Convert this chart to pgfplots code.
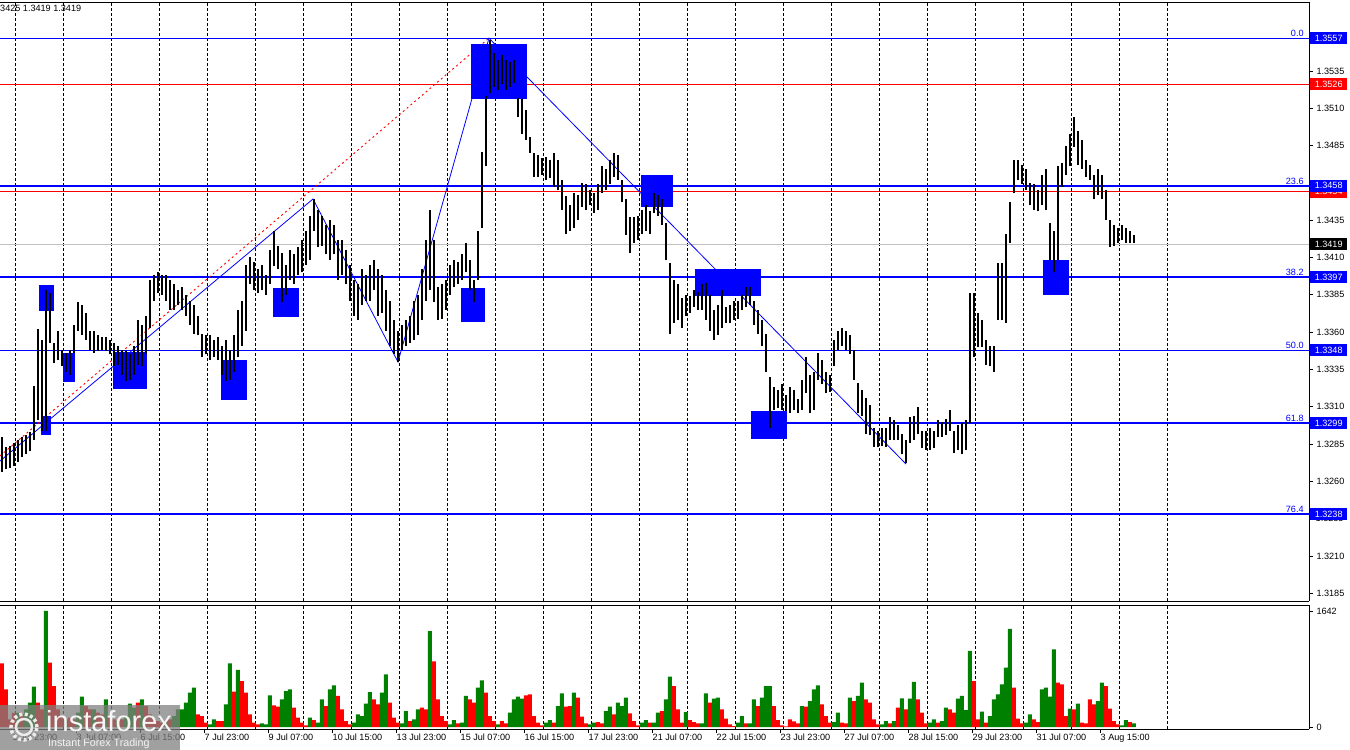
\documentclass[border=0pt]{standalone}
\usepackage{fontspec}
\setmainfont{Liberation Sans}
\usepackage{pgfplots}
\pgfplotsset{compat=1.18}
\usepackage{pgfplotstable}
\definecolor{vgreen}{RGB}{0,128,0}
\definecolor{lgray}{RGB}{192,192,192}
\newcommand\lab{\fontsize{9.1}{10}\selectfont}

\pgfplotstableread{
h lo hi
1 1.3266 1.3290
3 1.3268 1.3283
5 1.3269 1.3284
7 1.3270 1.3286
9 1.3273 1.3288
11 1.3276 1.3290
13 1.3278 1.3291
15 1.3280 1.3293
17 1.3288 1.3324
19 1.3301 1.3362
21 1.3294 1.3355
23 1.3294 1.3388
25 1.3353 1.3386
27 1.3339 1.3353
29 1.3341 1.3361
31 1.3337 1.3348
33 1.3333 1.3346
35 1.3331 1.3348
37 1.3346 1.3365
39 1.3361 1.3380
41 1.3358 1.3378
43 1.3355 1.3373
45 1.3348 1.3361
47 1.3346 1.3361
49 1.3347 1.3358
51 1.3348 1.3357
53 1.3347 1.3357
55 1.3345 1.3355
57 1.3337 1.3353
59 1.3338 1.3351
61 1.3331 1.3348
63 1.3327 1.3347
65 1.3328 1.3345
67 1.3331 1.3351
69 1.3338 1.3368
71 1.3337 1.3365
73 1.3345 1.3371
75 1.3363 1.3395
77 1.3381 1.3398
79 1.3386 1.3400
81 1.3385 1.3398
83 1.3381 1.3398
85 1.3375 1.3395
87 1.3375 1.3392
89 1.3378 1.3388
91 1.3375 1.3390
93 1.3371 1.3385
95 1.3365 1.3381
97 1.3359 1.3378
99 1.3358 1.3371
101 1.3343 1.3359
103 1.3345 1.3358
105 1.3341 1.3358
107 1.3343 1.3355
109 1.3341 1.3357
111 1.3331 1.3351
113 1.3327 1.3355
115 1.3328 1.3348
117 1.3333 1.3358
119 1.3343 1.3375
121 1.3351 1.3381
123 1.3361 1.3405
125 1.3392 1.3410
127 1.3388 1.3407
129 1.3386 1.3402
131 1.3388 1.3405
133 1.3385 1.3398
135 1.3392 1.3415
137 1.3404 1.3428
139 1.3402 1.3418
141 1.3380 1.3413
143 1.3385 1.3405
145 1.3395 1.3415
147 1.3392 1.3412
149 1.3398 1.3417
151 1.3400 1.3422
153 1.3405 1.3428
155 1.3408 1.3438
157 1.3428 1.3449
159 1.3417 1.3442
161 1.3418 1.3438
163 1.3412 1.3432
165 1.3408 1.3435
167 1.3412 1.3432
169 1.3395 1.3422
171 1.3398 1.3422
173 1.3392 1.3415
175 1.3381 1.3405
177 1.3371 1.3395
179 1.3368 1.3392
181 1.3378 1.3402
183 1.3381 1.3398
185 1.3381 1.3405
187 1.3388 1.3408
189 1.3371 1.3402
191 1.3373 1.3398
193 1.3361 1.3388
195 1.3351 1.3381
197 1.3345 1.3368
199 1.3340 1.3361
201 1.3348 1.3365
203 1.3351 1.3368
205 1.3353 1.3371
207 1.3355 1.3381
209 1.3358 1.3385
211 1.3368 1.3402
213 1.3381 1.3422
215 1.3388 1.3442
217 1.3380 1.3422
219 1.3368 1.3390
221 1.3369 1.3392
223 1.3375 1.3395
225 1.3385 1.3405
227 1.3390 1.3408
229 1.3392 1.3407
231 1.3395 1.3412
233 1.3400 1.3420
235 1.3388 1.3408
237 1.3380 1.3395
239 1.3395 1.3428
241 1.3430 1.3481
243 1.3471 1.3518
245 1.3520 1.3556
247 1.3524 1.3547
249 1.3522 1.3542
251 1.3526 1.3546
253 1.3522 1.3542
255 1.3524 1.3541
257 1.3527 1.3542
259 1.3504 1.3517
261 1.3493 1.3516
263 1.3489 1.3509
265 1.3480 1.3491
267 1.3464 1.3480
269 1.3464 1.3479
271 1.3465 1.3477
273 1.3462 1.3477
275 1.3463 1.3475
277 1.3457 1.3480
279 1.3455 1.3475
281 1.3442 1.3462
283 1.3426 1.3451
285 1.3428 1.3445
287 1.3430 1.3453
289 1.3435 1.3452
291 1.3444 1.3460
293 1.3442 1.3459
295 1.3445 1.3455
297 1.3440 1.3453
299 1.3442 1.3459
301 1.3453 1.3471
303 1.3455 1.3469
305 1.3459 1.3475
307 1.3464 1.3480
309 1.3462 1.3479
311 1.3447 1.3462
313 1.3425 1.3449
315 1.3413 1.3437
317 1.3420 1.3437
319 1.3422 1.3438
321 1.3426 1.3442
323 1.3428 1.3445
325 1.3426 1.3441
327 1.3440 1.3453
329 1.3438 1.3452
331 1.3432 1.3449
333 1.3408 1.3433
335 1.3359 1.3406
337 1.3366 1.3395
339 1.3368 1.3392
341 1.3363 1.3383
343 1.3371 1.3385
345 1.3373 1.3384
347 1.3377 1.3388
349 1.3375 1.3387
351 1.3375 1.3392
353 1.3368 1.3393
355 1.3361 1.3385
357 1.3355 1.3375
359 1.3358 1.3378
361 1.3363 1.3388
363 1.3366 1.3377
365 1.3366 1.3378
367 1.3368 1.3381
369 1.3369 1.3381
371 1.3375 1.3385
373 1.3377 1.3390
375 1.3378 1.3390
377 1.3365 1.3381
379 1.3359 1.3375
381 1.3351 1.3368
383 1.3333 1.3359
385 1.3296 1.3330
387 1.3308 1.3323
389 1.3309 1.3321
391 1.3308 1.3325
393 1.3307 1.3318
395 1.3306 1.3323
397 1.3308 1.3321
399 1.3306 1.3315
401 1.3308 1.3328
403 1.3319 1.3343
405 1.3306 1.3331
407 1.3308 1.3333
409 1.3328 1.3346
411 1.3325 1.3341
413 1.3319 1.3333
415 1.3320 1.3331
417 1.3337 1.3355
419 1.3348 1.3361
421 1.3351 1.3363
423 1.3348 1.3361
425 1.3345 1.3358
427 1.3328 1.3348
429 1.3306 1.3326
431 1.3304 1.3321
433 1.3292 1.3316
435 1.3291 1.3311
437 1.3283 1.3296
439 1.3283 1.3294
441 1.3284 1.3296
443 1.3283 1.3296
445 1.3288 1.3303
447 1.3288 1.3301
449 1.3288 1.3298
451 1.3278 1.3292
453 1.3272 1.3288
455 1.3286 1.3303
457 1.3288 1.3304
459 1.3292 1.3310
461 1.3282 1.3294
463 1.3281 1.3294
465 1.3281 1.3296
467 1.3282 1.3294
469 1.3290 1.3301
471 1.3290 1.3300
473 1.3291 1.3302
475 1.3294 1.3308
477 1.3279 1.3294
479 1.3281 1.3298
481 1.3278 1.3299
483 1.3281 1.3301
485 1.3299 1.3386
487 1.3343 1.3386
489 1.3350 1.3373
491 1.3350 1.3368
493 1.3338 1.3355
495 1.3337 1.3351
497 1.3333 1.3351
499 1.3368 1.3406
501 1.3368 1.3406
503 1.3366 1.3426
505 1.3420 1.3447
507 1.3453 1.3475
509 1.3462 1.3475
511 1.3459 1.3472
513 1.3455 1.3469
515 1.3445 1.3460
517 1.3442 1.3459
519 1.3441 1.3455
521 1.3445 1.3465
523 1.3442 1.3469
525 1.3408 1.3433
527 1.3400 1.3428
529 1.3408 1.3471
531 1.3457 1.3473
533 1.3465 1.3485
535 1.3471 1.3493
537 1.3484 1.3504
539 1.3472 1.3495
541 1.3469 1.3489
543 1.3464 1.3475
545 1.3462 1.3472
547 1.3449 1.3465
549 1.3452 1.3469
551 1.3449 1.3465
553 1.3435 1.3455
555 1.3417 1.3435
557 1.3418 1.3432
559 1.3420 1.3430
561 1.3422 1.3432
563 1.3420 1.3430
565 1.3420 1.3428
567 1.3420 1.3425
}\price

\pgfplotstableread{
h r g
1 900 nan
3 533 nan
5 108 nan
7 200 nan
9 nan 200
11 180 nan
13 nan 250
15 nan 344
17 nan 570
19 344 nan
21 250 nan
23 nan 1642
25 910 nan
27 580 nan
29 250 nan
31 156 nan
33 nan 108
35 132 nan
37 108 nan
39 nan 203
41 nan 429
43 297 nan
45 250 nan
47 nan 250
49 203 nan
51 180 nan
53 nan 392
55 156 nan
57 108 nan
59 nan 85
61 108 nan
63 nan 156
65 nan 330
67 nan 274
69 344 nan
71 nan 392
73 297 nan
75 180 nan
77 108 nan
79 85 nan
81 61 nan
83 nan 85
85 108 nan
87 nan 156
89 nan 250
91 nan 250
93 nan 344
95 nan 486
97 nan 557
99 180 nan
101 156 nan
103 61 nan
105 nan 38
107 nan 108
109 85 nan
111 85 nan
113 nan 321
115 nan 900
117 500 nan
119 nan 807
121 651 nan
123 486 nan
125 180 nan
127 61 nan
129 38 nan
131 nan 52
133 nan 38
135 nan 448
137 307 nan
139 288 nan
141 nan 392
143 nan 509
145 nan 533
147 274 nan
149 132 nan
151 61 nan
153 24 nan
155 nan 132
157 99 nan
159 nan 61
161 nan 392
163 297 nan
165 nan 533
167 nan 590
169 439 nan
171 250 nan
173 85 nan
175 38 nan
177 nan 61
179 nan 180
181 nan 156
183 nan 330
185 nan 495
187 392 nan
189 321 nan
191 nan 486
193 nan 745
195 344 nan
197 132 nan
199 61 nan
201 nan 52
203 nan 226
205 85 nan
207 nan 108
209 nan 250
211 274 nan
213 250 nan
215 nan 1358
217 930 nan
219 392 nan
221 156 nan
223 85 nan
225 nan 38
227 nan 99
229 52 nan
231 nan 61
233 nan 439
235 392 nan
237 344 nan
239 nan 557
241 nan 660
243 486 nan
245 156 nan
247 85 nan
249 nan 38
251 85 nan
253 52 nan
255 nan 203
257 nan 392
259 nan 429
261 nan 401
263 448 nan
265 462 nan
267 156 nan
269 61 nan
271 24 nan
273 nan 61
275 nan 99
277 61 nan
279 nan 297
281 nan 476
283 288 nan
285 297 nan
287 nan 486
289 415 nan
291 146 nan
293 52 nan
295 nan 38
297 nan 61
299 71 nan
301 52 nan
303 nan 226
305 nan 288
307 180 nan
309 nan 344
311 nan 297
313 nan 415
315 193 nan
317 85 nan
319 24 nan
321 nan 61
323 nan 99
325 61 nan
327 nan 61
329 nan 203
331 226 nan
333 nan 392
335 nan 712
337 580 nan
339 250 nan
341 61 nan
343 nan 212
345 99 nan
347 71 nan
349 52 nan
351 nan 52
353 nan 476
355 344 nan
357 nan 401
359 nan 415
361 250 nan
363 118 nan
365 38 nan
367 14 nan
369 nan 61
371 nan 156
373 52 nan
375 nan 52
377 nan 392
379 297 nan
381 nan 415
383 nan 580
385 nan 580
387 297 nan
389 99 nan
391 24 nan
393 10 nan
395 108 nan
397 80 nan
399 52 nan
401 nan 297
403 288 nan
405 nan 368
407 nan 533
409 nan 590
411 321 nan
413 156 nan
415 61 nan
417 nan 71
419 nan 203
421 61 nan
423 52 nan
425 nan 415
427 368 nan
429 nan 439
431 nan 627
433 392 nan
435 344 nan
437 108 nan
439 38 nan
441 nan 38
443 nan 85
445 52 nan
447 nan 85
449 274 nan
451 nan 406
453 250 nan
455 nan 401
457 nan 637
459 392 nan
461 203 nan
463 52 nan
465 nan 61
467 nan 108
469 61 nan
471 nan 85
473 nan 274
475 250 nan
477 203 nan
479 nan 401
481 nan 439
483 nan 240
485 nan 1076
487 650 nan
489 108 nan
491 nan 217
493 61 nan
495 nan 156
497 nan 392
499 nan 462
501 nan 604
503 nan 840
505 nan 1390
507 557 nan
509 118 nan
511 52 nan
513 nan 61
515 nan 180
517 108 nan
519 71 nan
521 nan 533
523 nan 557
525 nan 429
527 nan 1100
529 627 nan
531 604 nan
533 156 nan
535 nan 259
537 250 nan
539 nan 330
541 61 nan
543 52 nan
545 392 nan
547 321 nan
549 nan 368
551 nan 627
553 580 nan
555 259 nan
557 85 nan
559 38 nan
561 nan 24
563 nan 99
565 71 nan
567 nan 52
}\vol

\pgfplotsset{
  chartbase/.style={
    scale only axis, width=1309pt,
    xmin=0, xmax=654.5,
    axis x line*=box, axis y line*=right,
    axis line style={black, line width=0.9pt},
    tick align=outside, major tick length=4pt,
    tick style={black, line width=0.6pt},
    ticklabel style={font=\lab},
    major grid style={black, line width=0.8pt, dash pattern=on 3pt off 2pt},
    clip=false,
  },
}

\begin{document}
\begin{tikzpicture}
\useasboundingbox (0pt,0pt) rectangle (1350pt,-750pt);

% ---------------- price panel ----------------
\begin{axis}[chartbase,
  at={(0pt,-601pt)}, anchor=south west, height=599pt,
  ymin=1.31798, ymax=1.35812,
  xtick={7.75,31.75,55.75,79.75,103.75,127.75,151.75,175.75,199.75,223.75,247.75,271.75,295.75,319.75,343.75,367.75,391.75,415.75,439.75,463.75,487.75,511.75,535.75,559.75,583.75},
  xticklabels={}, xmajorgrids, xtick style={draw=none},
  ytick={1.3185,1.3210,1.3260,1.3285,1.3310,1.3335,1.3360,1.3385,1.3410,1.3435,1.3485,1.3510,1.3535},
  ytick pos=right, scaled y ticks=false,
  yticklabel style={/pgf/number format/.cd, fixed, fixed zerofill, precision=4, assume math mode=true},
]
% levels
\addplot[blue, line width=1pt] coordinates {(0,1.3557) (654.5,1.3557)};
\addplot[red, line width=1pt] coordinates {(0,1.3526) (654.5,1.3526)};
\addplot[red, line width=1pt] coordinates {(0,1.3454) (654.5,1.3454)};
\addplot[blue, line width=2.4pt] coordinates {(0,1.3458) (654.5,1.3458)};
\addplot[lgray, line width=1pt] coordinates {(0,1.3419) (654.5,1.3419)};
\addplot[blue, line width=2.4pt] coordinates {(0,1.3397) (654.5,1.3397)};
\addplot[blue, line width=1pt] coordinates {(0,1.3348) (654.5,1.3348)};
\addplot[blue, line width=2.4pt] coordinates {(0,1.3299) (654.5,1.3299)};
\addplot[blue, line width=2.4pt] coordinates {(0,1.3238) (654.5,1.3238)};
% trend lines
\addplot[red, line width=0.9pt, dash pattern=on 2pt off 3pt] coordinates {(0,1.32770) (244.5,1.3557)};
\addplot[blue, line width=0.8pt] coordinates {(0,1.32736) (156.5,1.34492) (199,1.33400) (244.5,1.3557) (453,1.32716)};
% rectangles
\addplot[fill=blue, draw=none] coordinates {(19.5,1.33741) (27,1.33741) (27,1.33916) (19.5,1.33916)} -- cycle;
\addplot[fill=blue, draw=none] coordinates {(31.5,1.33266) (37.5,1.33266) (37.5,1.33460) (31.5,1.33460)} -- cycle;
\addplot[fill=blue, draw=none] coordinates {(56.5,1.33219) (73.5,1.33219) (73.5,1.33467) (56.5,1.33467)} -- cycle;
\addplot[fill=blue, draw=none] coordinates {(110.5,1.33145) (123.5,1.33145) (123.5,1.33413) (110.5,1.33413)} -- cycle;
\addplot[fill=blue, draw=none] coordinates {(136.5,1.33701) (149.5,1.33701) (149.5,1.33895) (136.5,1.33895)} -- cycle;
\addplot[fill=blue, draw=none] coordinates {(20.5,1.32911) (25.5,1.32911) (25.5,1.33038) (20.5,1.33038)} -- cycle;
\addplot[fill=blue, draw=none] coordinates {(230.5,1.33668) (242.5,1.33668) (242.5,1.33895) (230.5,1.33895)} -- cycle;
\addplot[fill=blue, draw=none] coordinates {(235.5,1.35162) (263.5,1.35162) (263.5,1.35530) (235.5,1.35530)} -- cycle;
\addplot[fill=blue, draw=none] coordinates {(320.5,1.34438) (336.5,1.34438) (336.5,1.34653) (320.5,1.34653)} -- cycle;
\addplot[fill=blue, draw=none] coordinates {(347.5,1.33842) (380.5,1.33842) (380.5,1.34023) (347.5,1.34023)} -- cycle;
\addplot[fill=blue, draw=none] coordinates {(375.5,1.32884) (393.5,1.32884) (393.5,1.33071) (375.5,1.33071)} -- cycle;
\addplot[fill=blue, draw=none] coordinates {(521.5,1.33849) (534.5,1.33849) (534.5,1.34083) (521.5,1.34083)} -- cycle;
% price bars (high-low)
\addplot[draw=none, mark=none, error bars/.cd, y dir=plus, y explicit, error mark=none,
  error bar style={black, line width=1.6pt}]
  table[x=h, y=lo, y error expr=\thisrow{hi}-\thisrow{lo}] {\price};
% fibo texts
\foreach \v/\t in {1.3557/0.0, 1.3458/23.6, 1.3397/38.2, 1.3348/50.0, 1.3299/61.8, 1.3238/76.4}{
  \edef\tmp{\noexpand\node[anchor=south east, inner sep=1.2pt, text=blue, font=\noexpand\lab] at (axis cs:652.5,\v) {\t};}
  \tmp
}
% right price boxes
\node[anchor=west, inner sep=0pt, xshift=6.5pt, font=\lab] at (axis cs:654.5,1.3235) {1.3235};
\tikzset{pbox/.style={anchor=west, inner sep=0pt, xshift=1pt, minimum width=37pt, minimum height=12pt, text=white, font=\lab}}
\node[pbox, fill=blue] at (axis cs:654.5,1.3557) {1.3557};
\node[pbox, fill=red] at (axis cs:654.5,1.3526) {1.3526};
\node[pbox, fill=red] at (axis cs:654.5,1.3454) {1.3454};
\node[pbox, fill=blue] at (axis cs:654.5,1.3458) {1.3458};
\node[pbox, fill=black] at (axis cs:654.5,1.3419) {1.3419};
\node[pbox, fill=blue] at (axis cs:654.5,1.3397) {1.3397};
\node[pbox, fill=blue] at (axis cs:654.5,1.3348) {1.3348};
\node[pbox, fill=blue] at (axis cs:654.5,1.3299) {1.3299};
\node[pbox, fill=blue] at (axis cs:654.5,1.3238) {1.3238};
\end{axis}

% ---------------- volume panel ----------------
\begin{axis}[chartbase,
  at={(0pt,-729pt)}, anchor=south west, height=124pt,
  ymin=-28, ymax=1726,
  xtick={6,38,70,102,134,166,198,230,262,294,326,358,390,422,454,486,518,550},
  xticklabels={1 Jul 23:00, 3 Jul 07:00, 6 Jul 15:00, 7 Jul 23:00, 9 Jul 07:00, 10 Jul 15:00, 13 Jul 23:00, 15 Jul 07:00, 16 Jul 15:00, 17 Jul 23:00, 21 Jul 07:00, 22 Jul 15:00, 23 Jul 23:00, 27 Jul 07:00, 28 Jul 15:00, 29 Jul 23:00, 31 Jul 07:00, 3 Aug 15:00},
  xtick pos=left,
  xticklabel style={anchor=north west, inner sep=0pt, xshift=0.5pt, yshift=-1pt},
  extra x ticks={7.75,31.75,55.75,79.75,103.75,127.75,151.75,175.75,199.75,223.75,247.75,271.75,295.75,319.75,343.75,367.75,391.75,415.75,439.75,463.75,487.75,511.75,535.75,559.75,583.75},
  extra x tick labels={},
  extra x tick style={grid=major, major tick length=0pt},
  ytick={0,1642}, yticklabels={0,1642}, ytick pos=right,
]
\addplot[ybar, bar width=2, bar shift=0pt, fill=red, draw=none] table[x=h, y=r] {\vol};
\addplot[ybar, bar width=2, bar shift=0pt, fill=vgreen, draw=none] table[x=h, y=g] {\vol};
\end{axis}

% top-left text
\node[anchor=north west, inner sep=0pt, font=\lab] at (0pt,-5pt) {3425 1.3419 1.3419};

% watermark logo
\fill[black!50, opacity=0.75] (0pt,-705pt) rectangle (180pt,-750pt);
\draw[white!85!gray, line width=3.5pt, dash pattern=on 3pt off 2.5pt] (24pt,-727pt) circle (13pt);
\draw[white!85!gray, line width=2.5pt] (24pt,-727pt) circle (8pt);
\node[anchor=base west, inner sep=0pt, text=white!92!gray, font=\fontsize{29}{29}\selectfont] at (46pt,-731pt) {instaforex};
\node[anchor=base west, inner sep=0pt, text=white!92!gray, font=\fontsize{10.7}{11}\selectfont] at (48pt,-746pt) {Instant Forex Trading};
\end{tikzpicture}
\end{document}
